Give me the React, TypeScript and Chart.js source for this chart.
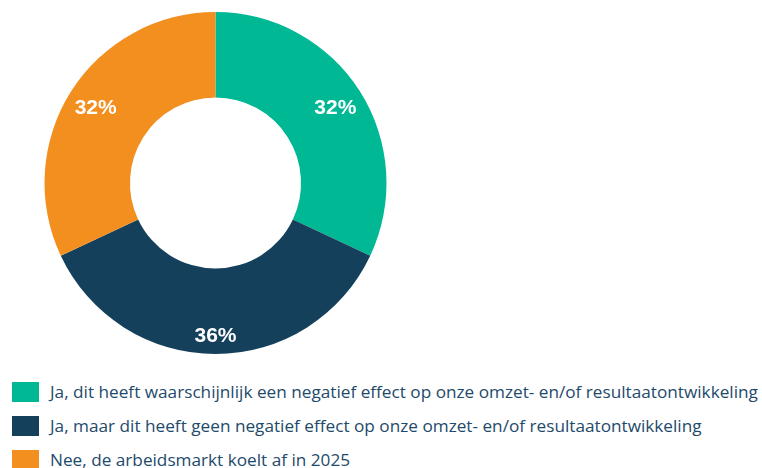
import React, { useEffect, useRef } from 'react';
import { Chart, registerables } from 'chart.js';

Chart.register(...registerables);

const categories = [
  'Ja, dit heeft waarschijnlijk een negatief effect op onze omzet- en/of resultaatontwikkeling',
  'Ja, maar dit heeft geen negatief effect op onze omzet- en/of resultaatontwikkeling',
  'Nee, de arbeidsmarkt koelt af in 2025',
];
const values = [32, 36, 32];
const valueLabels = ['32%', '36%', '32%'];
const colors = ['#00B894', '#15405C', '#F28F1F'];

const labelRadialPos = [0.66, 0.78, 0.66];

export default function App() {
  const ref = useRef<HTMLCanvasElement>(null);

  useEffect(() => {
    document.body.style.margin = '0';
    const labelPlugin = {
      id: 'sliceLabels',
      afterDatasetsDraw(chart: any) {
        const meta = chart.getDatasetMeta(0);
        const ctx = chart.ctx;
        ctx.save();
        ctx.font = 'bold 21px "Liberation Sans", Arial, sans-serif';
        ctx.fillStyle = '#ffffff';
        ctx.textAlign = 'center';
        ctx.textBaseline = 'middle';
        meta.data.forEach((arc: any, i: number) => {
          const p = arc.getProps(['x', 'y', 'startAngle', 'endAngle', 'innerRadius', 'outerRadius'], true);
          const mid = (p.startAngle + p.endAngle) / 2;
          const r = p.innerRadius + (p.outerRadius - p.innerRadius) * labelRadialPos[i];
          ctx.fillText(valueLabels[i], p.x + Math.cos(mid) * r, p.y + Math.sin(mid) * r + 1.5);
        });
        ctx.restore();
      },
    };
    const chart = new Chart(ref.current as HTMLCanvasElement, {
      type: 'doughnut',
      data: {
        labels: categories,
        datasets: [
          {
            data: values,
            backgroundColor: colors,
            borderWidth: 0,
          },
        ],
      },
      options: {
        responsive: false,
        animation: false,
        cutout: '50%',
        layout: { padding: { top: 12 } },
        plugins: {
          legend: { display: false },
          tooltip: { enabled: false },
        },
      },
      plugins: [labelPlugin],
    });
    return () => chart.destroy();
  }, []);

  return (
    <div style={{ position: 'relative', width: 762, height: 468, overflow: 'hidden', background: '#fff' }}>
      <canvas ref={ref} width={431} height={354} style={{ position: 'absolute', left: 0, top: 0 }} />
      {categories.map((c, i) => (
        <div
          key={i}
          style={{
            position: 'absolute',
            left: 12,
            top: 382 + i * 34,
            height: 20,
            display: 'flex',
            alignItems: 'center',
            whiteSpace: 'nowrap',
          }}
        >
          <span style={{ display: 'inline-block', width: 27, height: 20, background: colors[i], flex: 'none' }} />
          <span
            style={{
              marginLeft: 11,
              fontFamily: '"Open Sans", sans-serif',
              fontSize: 17.2,
              color: '#1E4A6B',
              lineHeight: '20px',
            }}
          >
            {c}
          </span>
        </div>
      ))}
    </div>
  );
}
